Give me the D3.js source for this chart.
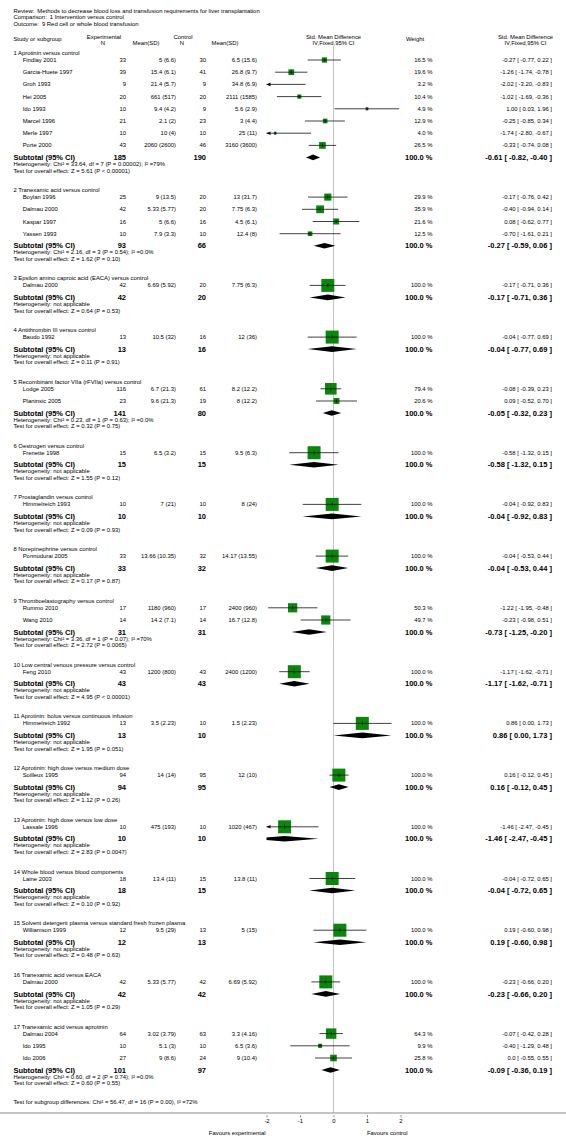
<!DOCTYPE html>
<html><head><meta charset="utf-8">
<script src="https://cdn.jsdelivr.net/npm/d3@7"></script>
<style>
body{margin:0;background:#fff}
svg{display:block}
text{font-family:"Liberation Sans",Arial,Helvetica,sans-serif;fill:#000}
</style>
</head><body>
<svg id="c" width="566" height="1144"></svg>
<script>
// ---------------- DATA ----------------
const titleLines = [
  ["Review:", "Methods to decrease blood loss and transfusion requirements for liver transplantation"],
  ["Comparison:", "1 Intervention versus control"],
  ["Outcome:", "9 Red cell or whole blood transfusion"]
];
const groupTitles = [
  "1 Aprotinin versus control",
  "2 Tranexamic acid versus control",
  "3 Epsilon amino caproic acid (EACA) versus control",
  "4 Antithrombin III versus control",
  "5 Recombinant factor VIIa (rFVIIa) versus control",
  "6 Oestrogen versus control",
  "7 Prostaglandin versus control",
  "8 Norepinephrine versus control",
  "9 Thromboelastography versus control",
  "10 Low central venous pressure versus control",
  "11 Aprotinin: bolus versus continuous infusion",
  "12 Aprotinin: high dose versus medium dose",
  "13 Aprotinin: high dose versus low dose",
  "14 Whole blood versus blood components",
  "15 Solvent detergent plasma versus standard fresh frozen plasma",
  "16 Tranexamic acid versus EACA",
  "17 Tranexamic acid versus aprotinin"
];
const groupHeterogeneity = [
  "Chi\u00b2 = 33.64, df = 7 (P = 0.00002); I\u00b2 =79%",
  "Chi\u00b2 = 2.16, df = 3 (P = 0.54); I\u00b2 =0.0%",
  "not applicable", "not applicable",
  "Chi\u00b2 = 0.23, df = 1 (P = 0.63); I\u00b2 =0.0%",
  "not applicable", "not applicable", "not applicable",
  "Chi\u00b2 = 3.36, df = 1 (P = 0.07); I\u00b2 =70%",
  "not applicable", "not applicable", "not applicable", "not applicable",
  "not applicable", "not applicable", "not applicable",
  "Chi\u00b2 = 0.60, df = 2 (P = 0.74); I\u00b2 =0.0%"
];
const groupOverallTest = [
  "Z = 5.61 (P < 0.00001)", "Z = 1.62 (P = 0.10)", "Z = 0.64 (P = 0.53)", "Z = 0.11 (P = 0.91)",
  "Z = 0.32 (P = 0.75)", "Z = 1.55 (P = 0.12)", "Z = 0.09 (P = 0.93)", "Z = 0.17 (P = 0.87)",
  "Z = 2.72 (P = 0.0065)", "Z = 4.95 (P < 0.00001)", "Z = 1.95 (P = 0.051)", "Z = 1.12 (P = 0.26)",
  "Z = 2.83 (P = 0.0047)", "Z = 0.10 (P = 0.92)", "Z = 0.48 (P = 0.63)", "Z = 1.05 (P = 0.29)",
  "Z = 0.60 (P = 0.55)"
];
const subExpN = [185, 93, 42, 13, 141, 15, 10, 33, 31, 43, 13, 94, 10, 18, 12, 42, 101];
const subCtlN = [190, 66, 20, 16, 80, 15, 10, 32, 31, 43, 10, 95, 10, 15, 13, 42, 97];
const subEst = [-0.61, -0.27, -0.17, -0.04, -0.05, -0.58, -0.04, -0.04, -0.73, -1.17, 0.86, 0.16, -1.46, -0.04, 0.19, -0.23, -0.09];
const subLo  = [-0.82, -0.59, -0.71, -0.77, -0.32, -1.32, -0.92, -0.53, -1.25, -1.62, 0.00, -0.12, -2.47, -0.72, -0.60, -0.66, -0.36];
const subHi  = [-0.40, 0.06, 0.36, 0.69, 0.23, 0.15, 0.83, 0.44, -0.20, -0.71, 1.73, 0.45, -0.45, 0.65, 0.98, 0.20, 0.19];

const studyGroup = [0,0,0,0,0,0,0,0, 1,1,1,1, 2, 3, 4,4, 5, 6, 7, 8,8, 9, 10, 11, 12, 13, 14, 15, 16,16,16];
const studyNames = ["Findlay 2001","Garcia-Huete 1997","Groh 1993","Hei 2005","Ido 1993","Marcel 1996","Merle 1997","Porte 2000",
  "Boylan 1996","Dalmau 2000","Kaspar 1997","Yassen 1993","Dalmau 2000","Baudo 1992","Lodge 2005","Planinsic 2005",
  "Frenette 1998","Himmelreich 1993","Ponnudurai 2005","Rummo 2010","Wang 2010","Feng 2010","Himmelreich 1992",
  "Soilleux 1995","Lassale 1996","Laine 2003","Williamson 1999","Dalmau 2000","Dalmau 2004","Ido 1995","Ido 2006"];
const studyExpN = [33,39,9,20,10,21,10,43, 25,42,16,10, 42, 13, 116,23, 15, 10, 33, 17,14, 43, 13, 94, 10, 18, 12, 42, 64,10,27];
const studyExpMeanSD = ["5 (6.6)","15.4 (6.1)","21.4 (5.7)","661 (517)","9.4 (4.2)","2.1 (2)","10 (4)","2060 (2600)",
  "9 (13.5)","5.33 (5.77)","5 (6.6)","7.9 (3.3)","6.69 (5.92)","10.5 (32)","6.7 (21.3)","9.6 (21.3)",
  "6.5 (3.2)","7 (21)","13.66 (10.35)","1180 (960)","14.2 (7.1)","1200 (800)","3.5 (2.23)",
  "14 (14)","475 (193)","13.4 (11)","9.5 (29)","5.33 (5.77)","3.02 (3.79)","5.1 (3)","9 (8.6)"];
const studyCtlN = [30,41,9,20,9,23,10,46, 20,20,16,10, 20, 16, 61,19, 15, 10, 32, 17,14, 43, 10, 95, 10, 15, 13, 42, 63,10,24];
const studyCtlMeanSD = ["6.5 (15.6)","26.8 (9.7)","34.8 (6.9)","2111 (1585)","5.6 (2.9)","3 (4.4)","25 (11)","3160 (3600)",
  "13 (31.7)","7.75 (6.3)","4.5 (6.1)","12.4 (8)","7.75 (6.3)","12 (36)","8.2 (12.2)","8 (12.2)",
  "9.5 (6.3)","8 (24)","14.17 (13.55)","2400 (960)","16.7 (12.8)","2400 (1200)","1.5 (2.23)",
  "12 (10)","1020 (467)","13.8 (11)","5 (15)","6.69 (5.92)","3.3 (4.16)","6.5 (3.6)","9 (10.4)"];
const studyWeight = [16.5,19.6,3.2,10.4,4.9,12.9,4.0,26.5, 29.9,35.9,21.6,12.5, 100, 100, 79.4,20.6, 100, 100, 100, 50.3,49.7, 100, 100, 100, 100, 100, 100, 100, 64.3,9.9,25.8];
const studyEst = [-0.27,-1.26,-2.02,-1.02,1.00,-0.25,-1.74,-0.33, -0.17,-0.40,0.08,-0.70, -0.17, -0.04, -0.08,0.09, -0.58, -0.04, -0.04, -1.22,-0.23, -1.17, 0.86, 0.16, -1.46, -0.04, 0.19, -0.23, -0.07,-0.40,0.0];
const studyLo  = [-0.77,-1.74,-3.20,-1.69,0.03,-0.85,-2.80,-0.74, -0.76,-0.94,-0.62,-1.61, -0.71, -0.77, -0.39,-0.52, -1.32, -0.92, -0.53, -1.95,-0.98, -1.62, 0.00, -0.12, -2.47, -0.72, -0.60, -0.66, -0.42,-1.29,-0.55];
const studyHi  = [0.22,-0.78,-0.83,-0.36,1.96,0.34,-0.67,0.08, 0.42,0.14,0.77,0.21, 0.36, 0.69, 0.23,0.70, 0.15, 0.83, 0.44, -0.48,0.51, -0.71, 1.73, 0.45, -0.45, 0.65, 0.98, 0.20, 0.28,0.48,0.55];

const axisTicks = [-2, -1, 0, 1, 2];
const subgroupDiffText = "Test for subgroup differences: Chi\u00b2 = 56.47, df = 16 (P = 0.00), I\u00b2 =72%";

// ---------------- LAYOUT ----------------
const svg = d3.select("#c");
const FS = 5.9, FB = 7.5;
const X = { left: 13.4, indent: 22.7, expN: 126, expMean: 176, ctlN: 206, ctlMean: 257, weight: 432.5, est: 552 };
const x = d3.scaleLinear().domain([-2, 2]).range([266.5, 400.5]);
const box = d3.scaleSqrt().domain([0, 100]).range([0, 13]);
const [d0, d1] = x.domain();

function t(x0, y0, s, anchor = "start", size = FS, bold = false) {
  return svg.append("text").attr("x", x0).attr("y", y0).attr("dy", "0.35em")
    .attr("text-anchor", anchor).attr("font-size", size)
    .attr("font-weight", bold ? "bold" : "normal").text(s);
}
const f2 = v => v.toFixed(2);
const fest = v => v === 0 ? "0.0" : f2(v);
const ciText = (e, l, h) => `${fest(e)} [ ${f2(l)}, ${f2(h)} ]`;

// title
const titleY = [10.7, 17.3, 24];
titleLines.forEach((l, i) => {
  const tx = t(X.left, titleY[i], "");
  tx.append("tspan").text(l[0]);
  tx.append("tspan").attr("dx", 3).text(l[1]);
});

// column headers
const hy1 = 37.3, hy2 = 43.2, hym = 39.4;
t(X.left, hym, "Study or subgroup");
t(104, hy1, "Experimental", "middle");
t(103, hy2, "N", "middle");
t(146, hy2, "Mean(SD)", "middle");
t(183, hy1, "Control", "middle");
t(182, hy2, "N", "middle");
t(225, hy2, "Mean(SD)", "middle");
t(x(0), hy1, "Std. Mean Difference", "middle");
t(x(0), hy2, "IV,Fixed,95% CI", "middle");
t(415, hym, "Weight", "middle");
t(525.5, hy1, "Std. Mean Difference", "middle");
t(525.5, hy2, "IV,Fixed,95% CI", "middle");

// clip for plot area
svg.append("clipPath").attr("id", "pc").append("rect")
  .attr("x", x(d0)).attr("y", 0).attr("width", x(d1) - x(d0)).attr("height", 1144);

const axisY = 1113;
// zero line
svg.append("line").attr("x1", x(0)).attr("x2", x(0)).attr("y1", 46).attr("y2", axisY)
  .attr("stroke", "#b5b5b5").attr("stroke-width", 0.8);

const plot = svg.append("g");

function drawStudy(i, y) {
  t(X.indent, y, studyNames[i]);
  t(X.expN, y, studyExpN[i], "end");
  t(X.expMean, y, studyExpMeanSD[i], "end");
  t(X.ctlN, y, studyCtlN[i], "end");
  t(X.ctlMean, y, studyCtlMeanSD[i], "end");
  t(X.weight, y, studyWeight[i].toFixed(1) + " %", "end");
  t(X.est, y, ciText(studyEst[i], studyLo[i], studyHi[i]), "end");
  const lo = Math.max(studyLo[i], d0), hi = Math.min(studyHi[i], d1);
  const e = studyEst[i];
  if (e >= d0 && e <= d1) {
    const s = box(studyWeight[i]);
    plot.append("rect").attr("x", x(e) - s / 2).attr("y", y - s / 2)
      .attr("width", s).attr("height", s).attr("fill", "#0a870a");
  }
  plot.append("line").attr("x1", x(lo)).attr("x2", x(hi)).attr("y1", y).attr("y2", y)
    .attr("stroke", "#111").attr("stroke-width", 0.8);
  if (e >= d0 && e <= d1) {
    plot.append("line").attr("x1", x(e)).attr("x2", x(e)).attr("y1", y - 1.8).attr("y2", y + 1.8)
      .attr("stroke", "#000").attr("stroke-width", 0.6);
  }
  if (studyLo[i] < d0) {
    const ax = x(d0);
    plot.append("path").attr("d", `M${ax},${y}L${ax + 4},${y - 1.8}L${ax + 4},${y + 1.8}Z`).attr("fill", "#000");
  }
  if (studyHi[i] > d1) {
    const ax = x(d1);
    plot.append("path").attr("d", `M${ax},${y}L${ax - 4},${y - 1.8}L${ax - 4},${y + 1.8}Z`).attr("fill", "#000");
  }
}

function drawSubtotal(g, y) {
  t(X.left, y, "Subtotal (95% CI)", "start", FB, true);
  t(X.expN, y, subExpN[g], "end", FB, true);
  t(X.ctlN, y, subCtlN[g], "end", FB, true);
  t(X.weight, y, "100.0 %", "end", FB, true);
  t(X.est, y, ciText(subEst[g], subLo[g], subHi[g]), "end", FB, true);
  const h = 2.8;
  const pts = [[x(subLo[g]), y], [x(subEst[g]), y - h], [x(subHi[g]), y], [x(subEst[g]), y + h]];
  plot.append("polygon").attr("points", pts.map(p => p.join(",")).join(" "))
    .attr("fill", "#000").attr("clip-path", "url(#pc)");
}

let y = 53;
groupTitles.forEach((title, g) => {
  t(X.left, y, title);
  y += 7;
  const idx = studyGroup.map((gg, i) => gg === g ? i : -1).filter(i => i >= 0);
  idx.forEach((i, k) => { if (k > 0) y += 12.2; drawStudy(i, y); });
  y += 12;
  drawSubtotal(g, y);
  y += 6.6; t(X.left, y, "Heterogeneity: " + groupHeterogeneity[g]);
  y += 6.6; t(X.left, y, "Test for overall effect: " + groupOverallTest[g]);
  y += 19.5;
});
t(X.left, y - 0.5, subgroupDiffText);

// axis
svg.append("line").attr("x1", 0).attr("x2", 566).attr("y1", axisY).attr("y2", axisY)
  .attr("stroke", "#8a8a8a").attr("stroke-width", 1);
const ag = svg.append("g").attr("transform", `translate(0,${axisY + 2})`)
  .call(d3.axisBottom(x).tickValues(axisTicks).tickSize(2.5).tickPadding(1.5).tickFormat(d => String(d)));
ag.select(".domain").remove();
ag.selectAll(".tick line").attr("stroke", "#555").attr("stroke-width", 0.6);
ag.selectAll(".tick text").attr("font-size", FS).attr("font-family", null);
t(x(d0) - 1, 1133, "Favours experimental", "end");
t(x(1), 1133, "Favours control", "start");
</script>
</body></html>
